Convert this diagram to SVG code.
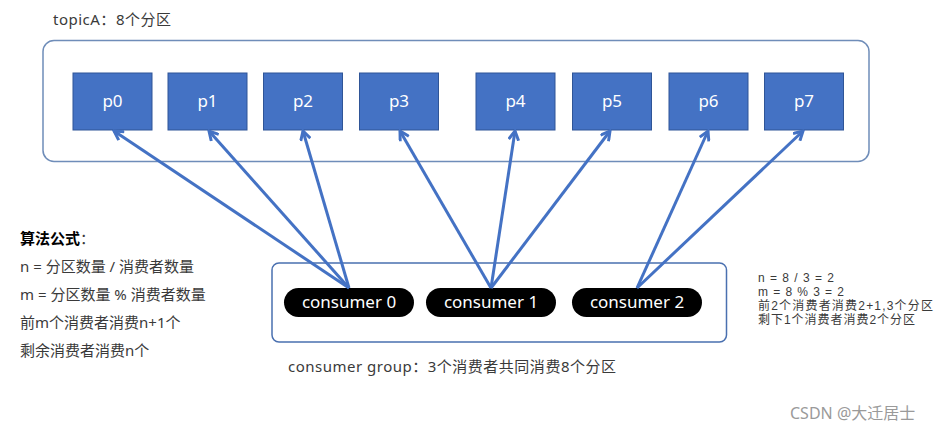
<svg xmlns="http://www.w3.org/2000/svg" width="941" height="433" viewBox="0 0 941 433">
<defs>
<marker id="ah" markerWidth="12" markerHeight="12" refX="10" refY="6" orient="auto" markerUnits="userSpaceOnUse">
<path d="M1,1 L10,6 L1,11" fill="none" stroke="#4472C4" stroke-width="3" stroke-linejoin="miter"/>
</marker>
</defs>
<style>
text{font-family:"Noto Sans","Noto Sans CJK SC",sans-serif;fill:#3a3a3a}
.part rect{fill:#4472C4;stroke:#2F5597;stroke-width:1}
.part text{fill:#fff;font-size:17px;text-anchor:middle}
.cons rect{fill:#000}
.cons text{fill:#fff;font-size:17px;text-anchor:middle}
.conn line{stroke:#4472C4;stroke-width:3;marker-end:url(#ah)}
.lbl{font-size:15px}
.sm{font-size:12px;font-family:"Liberation Sans","Noto Sans CJK SC",sans-serif}
</style>
<rect x="0" y="0" width="941" height="433" fill="#fff"/>
<g id="topic">
<rect x="43" y="40.5" width="826" height="121" rx="11" fill="none" stroke="#6F8DB9" stroke-width="1.5"/>
<text class="lbl" x="53" y="25" font-size="15.5" textLength="118" lengthAdjust="spacing">topicA：8个分区</text>
</g>
<g id="p0" class="part"><rect x="73" y="73" width="79" height="57"/><text x="112.5" y="107">p0</text></g>
<g id="p1" class="part"><rect x="168" y="73" width="79" height="57"/><text x="207.5" y="107">p1</text></g>
<g id="p2" class="part"><rect x="263.5" y="73" width="79" height="57"/><text x="303" y="107">p2</text></g>
<g id="p3" class="part"><rect x="359.5" y="73" width="79" height="57"/><text x="399" y="107">p3</text></g>
<g id="p4" class="part"><rect x="476" y="73" width="79" height="57"/><text x="515.5" y="107">p4</text></g>
<g id="p5" class="part"><rect x="572.5" y="73" width="79" height="57"/><text x="612" y="107">p5</text></g>
<g id="p6" class="part"><rect x="669" y="73" width="79" height="57"/><text x="708.5" y="107">p6</text></g>
<g id="p7" class="part"><rect x="764.5" y="73" width="79" height="57"/><text x="804" y="107">p7</text></g>
<g id="group">
<rect x="272" y="263" width="454.5" height="79" rx="7" fill="none" stroke="#4A70B0" stroke-width="1.5"/>
<text class="lbl" x="288" y="372" textLength="328" lengthAdjust="spacing">consumer group：3个消费者共同消费8个分区</text>
</g>
<g id="c0" class="cons"><rect x="284" y="288" width="130" height="29" rx="14.5"/><text x="349" y="308">consumer 0</text></g>
<g id="c1" class="cons"><rect x="426" y="288" width="130" height="29" rx="14.5"/><text x="491" y="308">consumer 1</text></g>
<g id="c2" class="cons"><rect x="572" y="288" width="130" height="29" rx="14.5"/><text x="637" y="308">consumer 2</text></g>
<g id="connectors" class="conn">
<line x1="349" y1="288" x2="114" y2="131"/>
<line x1="349" y1="288" x2="209" y2="131"/>
<line x1="349" y1="288" x2="303" y2="131"/>
<line x1="491" y1="288" x2="400" y2="131"/>
<line x1="491" y1="288" x2="515" y2="131"/>
<line x1="491" y1="288" x2="610" y2="131"/>
<line x1="637" y1="288" x2="708" y2="131"/>
<line x1="637" y1="288" x2="803" y2="131"/>
</g>
<g id="formula">
<text class="lbl" x="20" y="244"><tspan font-weight="bold" fill="#000">算法公式</tspan>：</text>
<text class="lbl" x="20" y="272">n = 分区数量 / 消费者数量</text>
<text class="lbl" x="20" y="300">m = 分区数量 % 消费者数量</text>
<text class="lbl" x="20" y="328">前m个消费者消费n+1个</text>
<text class="lbl" x="20" y="356">剩余消费者消费n个</text>
</g>
<g id="example">
<text class="sm" x="758" y="282" textLength="76" lengthAdjust="spacing">n = 8 / 3 = 2</text>
<text class="sm" x="758" y="296" textLength="86" lengthAdjust="spacing">m = 8 % 3 = 2</text>
<text class="sm" x="758" y="310" textLength="175" lengthAdjust="spacing">前2个消费者消费2+1,3个分区</text>
<text class="sm" x="758" y="324" textLength="157" lengthAdjust="spacing">剩下1个消费者消费2个分区</text>
</g>
<text x="790" y="419" font-size="16" style="fill:#9a9a9a">CSDN @大迁居士</text>
</svg>
